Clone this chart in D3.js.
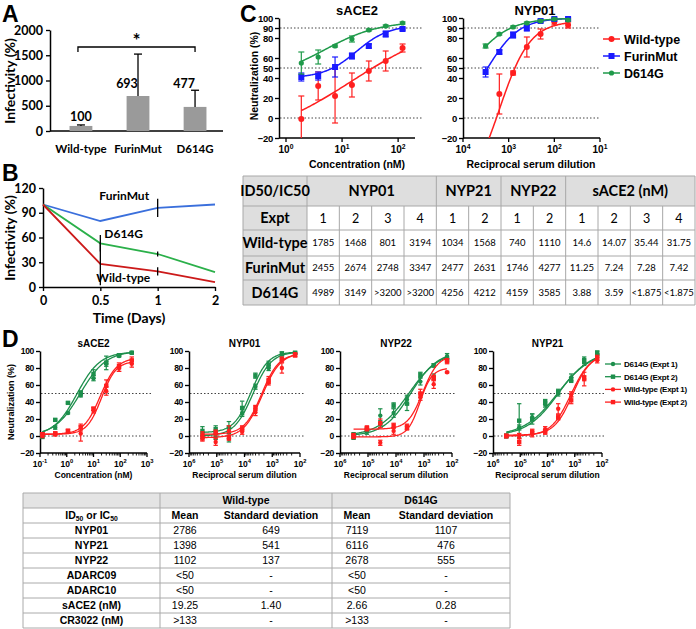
<!DOCTYPE html>
<html><head><meta charset="utf-8">
<script src="https://cdn.jsdelivr.net/npm/d3@7"></script>
<style>body{margin:0;background:#fff} svg{display:block}</style>
</head><body>
<svg id="chart" width="696" height="629"></svg>
<script>
// ---------------- Panel A data ----------------
const aCategories = ["Wild-type", "FurinMut", "D614G"];
const aValues = [100, 693, 477];
const aErrUpper = [20, 830, 330];
const aTicks = [0, 500, 1000, 1500, 2000];

// ---------------- Panel B data ----------------
const bTimes = [0, 0.5, 1, 2];
const bTimeLabels = ["0", "0.5", "1", "2"];
const bTicks = [0, 30, 60, 90, 120];
const bFurin = [100, 80, 96, 100];
const bD614G = [100, 53, 40, 18];
const bWild = [100, 28, 19, 6];
const bFurinErr = [0, 0, 11, 0];
const bD614GErr = [0, 10, 3, 0];
const bWildErr = [0, 26, 5, 0];

// ---------------- Panel C data ----------------
const cTicks = [-20, 0, 20, 40, 50, 60, 80, 90, 100];
const cRefLines = [0, 50, 90];
const cConc = [1.875, 3.75, 7.5, 15, 30, 60, 120];
const cAceWild = [-1, 32, 22, 33, 47, 57, 70];
const cAceWildErr = [23, 14, 27, 12, 10, 10, 4];
const cAceFurin = [41, 42, 51, 62, 72, 84, 89];
const cAceFurinErr = [4, 4, 10, 3, 2, 3, 1];
const cAceD614G = [55, 61, 72, 79, 88, 92, 95];
const cAceD614GErr = [11, 7, 1, 3, 1, 1, 1];
const cAceWildFit = [-25, 99, 15, 0.5];
const cAceFurinFit = [40, 93, 18, 1.5];
const cAceD614GFit = [40, 97, 5, 0.9];
const cDil = [3200, 1600, 800, 400, 200, 100, 50];
const cNypWild = [null, 24, 45, 71, 84, 96, 93];
const cNypWildErr = [0, 20, 2, 10, 5, 3, 3];
const cNypFurin = [46, 66, 83, 90, 97, 99, 99];
const cNypFurinErr = [5, 2, 3, 3, 1, 1, 1];
const cNypD614G = [72, 84, 91, 95, 97, 99, 98];
const cNypD614GErr = [2, 1, 1, 1, 1, 1, 1];
const cNypWildFit = [-80, 97, 1600, 1.3];
const cNypFurinFit = [0, 100, 2900, 1.25];
const cNypD614GFit = [0, 100, 8000, 1.0];
const cLegend = ["Wild-type", "FurinMut", "D614G"];

// ---------------- Table C data ----------------
const ctGroups = ["NYP01", "NYP21", "NYP22", "sACE2 (nM)"];
const ctExpt = [[1, 2, 3, 4], [1, 2], [1, 2], [1, 2, 3, 4]];
const ctRowLabels = ["Wild-type", "FurinMut", "D614G"];
const ctWild = ["1785", "1468", "801", "3194", "1034", "1568", "740", "1110", "14.6", "14.07", "35.44", "31.75"];
const ctFurin = ["2455", "2674", "2748", "3347", "2477", "2631", "1746", "4277", "11.25", "7.24", "7.28", "7.42"];
const ctD614G = ["4989", "3149", ">3200", ">3200", "4256", "4212", "4159", "3585", "3.88", "3.59", "<1.875", "<1.875"];

// ---------------- Panel D data ----------------
const dTicks = [-20, 0, 20, 40, 60, 80, 100];
const dRefLines = [0, 50];
const dConc = [0.123, 0.37, 1.11, 3.33, 10, 30, 90, 270];
const dDil = [328050, 109350, 36450, 12150, 4050, 1350, 450, 150];
// sACE2
const dAceG1 = [1, 10, 27, 48, 68, 85, 94, 98];
const dAceG1Err = [2, 2, 1, 2, 3, 3, 1, 1];
const dAceG2 = [0, 19, 39, 51, 73, 86, 95, 98];
const dAceG2Err = [3, 1, 1, 2, 5, 8, 1, 1];
const dAceR1 = [1, 2, 5, 3, 30, 53, 80, 85];
const dAceR1Err = [3, 2, 2, 9, 3, 5, 4, 4];
const dAceR2 = [2, 3, 6, 10, 32, 59, 81, 89];
const dAceR2Err = [2, 2, 2, 4, 2, 7, 5, 4];
const dAceFits = [[0, 100, 3.2, 0.9], [0, 99, 2.4, 1.0], [2, 88, 20, 1.6], [2, 92, 18, 1.4]];
// NYP01
const dN01G1 = [0, -1, -3, 27, 58, 80, 91, 97];
const dN01G1Err = [3, 3, 4, 4, 3, 3, 2, 1];
const dN01G2 = [6, 8, 10, 33, 71, 84, 97, 98];
const dN01G2Err = [5, 4, 7, 8, 3, 4, 2, 1];
const dN01R1 = [2, -7, 6, 5, 28, 63, 80, 96];
const dN01R1Err = [3, 4, 6, 3, 4, 3, 6, 2];
const dN01R2 = [-3, 4, -2, 9, 33, 66, 90, 95];
const dN01R2Err = [3, 3, 3, 3, 3, 4, 3, 2];
const dN01Fits = [[0, 99, 5000, 1.3], [4, 99, 5800, 1.4], [-2, 98, 2300, 1.3], [2, 97, 2400, 1.4]];
// NYP22
const dN22G1 = [0, 5, 24, 27, 43, 64, 70, 94];
const dN22G1Err = [4, 3, 8, 5, 5, 4, 3, 3];
const dN22G2 = [0, 7, 14, 36, 38, 72, 83, 90];
const dN22G2Err = [3, 3, 4, 3, 8, 3, 2, 3];
const dN22R1 = [0, 9, -8, 6, 11, 46, 61, 75];
const dN22R1Err = [2, 2, 3, 4, 3, 4, 5, 1];
const dN22R2 = [0, 9, 15, 12, 10, 50, 68, 88];
const dN22R2Err = [3, 3, 5, 3, 3, 5, 3, 3];
const dN22Fits = [[0, 100, 3500, 0.8], [0, 100, 3000, 0.9], [-1, 80, 1400, 2.0], [8, 95, 1100, 1.6]];
// NYP21
const dN21G1 = [0, 10, 22, 37, 50, 69, 90, 95];
const dN21G1Err = [2, 3, 4, 3, 3, 4, 3, 2];
const dN21G2 = [0, 18, 20, 40, 52, 66, 87, 98];
const dN21G2Err = [2, 20, 6, 3, 3, 3, 4, 2];
const dN21R1 = [0, 0, 2, 8, 32, 49, 67, 89];
const dN21R1Err = [2, 3, 3, 3, 6, 3, 8, 3];
const dN21R2 = [0, -7, 5, 5, 22, 42, 68, 92];
const dN21R2Err = [2, 4, 3, 3, 3, 4, 3, 3];
const dN21Fits = [[0, 100, 4000, 0.75], [0, 100, 4300, 0.7], [0, 97, 1400, 1.2], [1, 97, 1200, 1.3]];
const dLegend = ["D614G (Expt 1)", "D614G (Expt 2)", "Wild-type (Expt 1)", "Wild-type (Expt 2)"];

// ---------------- Bottom table data ----------------
const tHead1 = ["Wild-type", "D614G"];
const tHead2 = ["Mean", "Standard deviation", "Mean", "Standard deviation"];
const tRows = ["NYP01", "NYP21", "NYP22", "ADARC09", "ADARC10", "sACE2 (nM)", "CR3022 (nM)"];
const tWildMean = ["2786", "1398", "1102", "<50", "<50", "19.25", ">133"];
const tWildSD = ["649", "541", "137", "-", "-", "1.40", "-"];
const tD614GMean = ["7119", "6116", "2678", "<50", "<50", "2.66", ">133"];
const tD614GSD = ["1107", "476", "555", "-", "-", "0.28", "-"];

// =========================================================
const svg = d3.select("#chart");
const AR = "'Liberation Sans', Arial, sans-serif";
const CAL = "Lato, 'Open Sans', sans-serif";
const RED = "#ff1f1f", BLUE = "#1a1aff", GREEN = "#1f9a4a", DGREEN = "#1d8f4c";

function panelLetter(t, x, y) {
  svg.append("text").attr("x", x).attr("y", y).text(t)
    .attr("font-family", AR).attr("font-weight", "bold").attr("font-size", 23);
}
function styleAxis(a, fs, font, sw, ls) {
  a.select(".domain").attr("stroke", "#000").attr("stroke-width", sw);
  a.selectAll(".tick line").attr("stroke", "#000").attr("stroke-width", sw * 0.9);
  a.selectAll(".tick text").attr("font-family", font).attr("font-weight", "bold")
    .attr("font-size", fs).attr("fill", "#000").attr("letter-spacing", ls || 0);
}
function rotTitle(text, x, y, fs, font) {
  svg.append("text").attr("transform", `translate(${x},${y}) rotate(-90)`)
    .attr("text-anchor", "middle").attr("font-family", font).attr("font-weight", "bold")
    .attr("font-size", fs).text(text);
}
function txt(g, s, x, y, fs, font, anchor, weight) {
  return g.append("text").attr("x", x).attr("y", y).attr("font-size", fs)
    .attr("font-family", font).attr("font-weight", weight || "bold")
    .attr("text-anchor", anchor || "middle").text(s);
}

// ---------------- Panel A ----------------
(function () {
  const g = svg.append("g");
  panelLetter("A", 2, 22);
  const x = d3.scaleBand().domain(aCategories).range([53, 223]).paddingInner(0.6).paddingOuter(0.29);
  const y = d3.scaleLinear().domain([0, 2000]).range([131, 30]);
  const ax = g.append("g").attr("transform", "translate(50,0)")
    .call(d3.axisLeft(y).tickValues(aTicks).tickFormat(d3.format("d")).tickSize(4).tickSizeOuter(0).tickPadding(3));
  styleAxis(ax, 12.5, CAL, 1.5);
  g.append("line").attr("x1", 50).attr("x2", 223).attr("y1", 131).attr("y2", 131).attr("stroke", "#000").attr("stroke-width", 1.5);
  aCategories.forEach((c, i) => {
    const cx = x(c) + x.bandwidth() / 2;
    g.append("rect").attr("x", x(c)).attr("y", y(aValues[i])).attr("width", x.bandwidth())
      .attr("height", y(0) - y(aValues[i])).attr("fill", "#9a9a9a");
    g.append("line").attr("x1", cx).attr("x2", cx).attr("y1", y(aValues[i])).attr("y2", y(aValues[i] + aErrUpper[i])).attr("stroke", "#000").attr("stroke-width", 1.3);
    g.append("line").attr("x1", cx - 4).attr("x2", cx + 4).attr("y1", y(aValues[i] + aErrUpper[i])).attr("y2", y(aValues[i] + aErrUpper[i])).attr("stroke", "#000").attr("stroke-width", 1.3);
    const big = aErrUpper[i] > 100;
    txt(g, String(aValues[i]), big ? cx - 11 : cx, big ? 88 : y(aValues[i] + aErrUpper[i]) - 4, 12.5, CAL);
    txt(g, c, cx, 153, 11.5, CAL);
  });
  const x1 = x(aCategories[0]) + x.bandwidth() / 2 - 3, x2 = x(aCategories[2]) + x.bandwidth() / 2;
  g.append("path").attr("d", `M${x1},52 V47 H${x2} V52`).attr("fill", "none").attr("stroke", "#000").attr("stroke-width", 1.3);
  txt(g, "*", (x1 + x2) / 2, 47, 19, CAL);
  rotTitle("Infectivity (%)", 15, 81, 14, CAL);
})();

// ---------------- Panel B ----------------
(function () {
  const g = svg.append("g");
  panelLetter("B", 2, 181);
  const x = d3.scalePoint().domain(bTimes).range([43, 215]);
  const y = d3.scaleLinear().domain([0, 120]).range([287, 188]);
  const ax = g.append("g").attr("transform", "translate(43,0)")
    .call(d3.axisLeft(y).tickValues(bTicks).tickSize(4).tickSizeOuter(0).tickPadding(3));
  styleAxis(ax, 12.5, CAL, 1.5);
  const bx = g.append("g").attr("transform", "translate(0,287)")
    .call(d3.axisBottom(x).tickFormat((d, i) => bTimeLabels[i]).tickSize(4).tickSizeOuter(0).tickPadding(5));
  styleAxis(bx, 12.5, CAL, 1.5);
  const series = [[bFurin, bFurinErr, "#3a6fdc"], [bD614G, bD614GErr, "#2bb04a"], [bWild, bWildErr, "#cc1a1a"]];
  const line = d3.line().x((d, i) => x(bTimes[i])).y(d => y(d));
  series.forEach(([v, e, col]) => {
    g.append("path").datum(v).attr("d", line).attr("fill", "none").attr("stroke", col).attr("stroke-width", 1.8);
  });
  series.forEach(([v, e]) => {
    v.forEach((d, i) => {
      if (e[i] > 0) g.append("line").attr("x1", x(bTimes[i])).attr("x2", x(bTimes[i]))
        .attr("y1", y(d - e[i])).attr("y2", y(d + e[i])).attr("stroke", "#000").attr("stroke-width", 1.3);
    });
  });
  txt(g, "FurinMut", x(0.5) - 1, y(105), 12, CAL, "start");
  txt(g, "D614G", x(0.5) + 4, y(59), 12, CAL, "start");
  txt(g, "Wild-type", x(0.5) - 4, y(6), 12, CAL, "start");
  rotTitle("Infectivity (%)", 15, 238, 14, CAL);
  txt(g, "Time (Days)", 129, 323, 14, CAL);
})();

// ---------------- helpers for dose-response ----------------
let clipN = 0;
function fourPL(p, xv, dil) {
  const [b, t, c, h] = p;
  const r = dil ? Math.pow(xv / c, h) : Math.pow(c / xv, h);
  return b + (t - b) / (1 + r);
}
function logXAxis(g, x, exps, yPos, x0, x1, fs, minor) {
  g.append("line").attr("x1", x0).attr("x2", x1).attr("y1", yPos).attr("y2", yPos).attr("stroke", "#000").attr("stroke-width", 1.5);
  exps.forEach(e => {
    const xv = x(Math.pow(10, e));
    g.append("line").attr("x1", xv).attr("x2", xv).attr("y1", yPos).attr("y2", yPos + 4).attr("stroke", "#000").attr("stroke-width", 1.3);
    const t = g.append("text").attr("x", xv).attr("y", yPos + fs + 5).attr("text-anchor", "middle")
      .attr("font-family", AR).attr("font-weight", "bold").attr("font-size", fs);
    t.append("tspan").text("10");
    t.append("tspan").attr("dy", -fs * 0.45).attr("font-size", fs * 0.68).text(e);
  });
  if (minor) {
    const lo = Math.min(...exps), hi = Math.max(...exps);
    for (let e = lo; e < hi; e++) for (let k = 2; k <= 9; k++) {
      const xv = x(k * Math.pow(10, e));
      g.append("line").attr("x1", xv).attr("x2", xv).attr("y1", yPos).attr("y2", yPos + 2.5).attr("stroke", "#000").attr("stroke-width", 0.9);
    }
  }
}
function doseYAxis(g, y, ticks, xPos, fs) {
  const a = g.append("g").attr("transform", `translate(${xPos},0)`)
    .call(d3.axisLeft(y).tickValues(ticks).tickSize(4).tickSizeOuter(0).tickPadding(2));
  styleAxis(a, fs, AR, 1.5, -0.3);
}
function refLines(g, y, vals, x0, x1) {
  vals.forEach(v => g.append("line").attr("x1", x0).attr("x2", x1).attr("y1", y(v)).attr("y2", y(v))
    .attr("stroke", "#444").attr("stroke-width", 1).attr("stroke-dasharray", "1.5,2"));
}
function marker(g, shape, px, py, size, col) {
  if (shape === "sq") g.append("rect").attr("x", px - size).attr("y", py - size).attr("width", 2 * size).attr("height", 2 * size).attr("fill", col);
  else g.append("circle").attr("cx", px).attr("cy", py).attr("r", size).attr("fill", col);
}
function series(g, x, y, xs, vals, errs, fit, dil, col, shape, size, cap, clip, sw) {
  const [ymin, ymax] = y.domain();
  const lo = Math.log10(d3.min(xs)), hi = Math.log10(d3.max(xs));
  const pts = d3.range(0, 121).map(i => Math.pow(10, lo + (hi - lo) * i / 120));
  g.append("path").datum(pts).attr("clip-path", `url(#${clip})`)
    .attr("d", d3.line().x(d => x(d)).y(d => y(fourPL(fit, d, dil))))
    .attr("fill", "none").attr("stroke", col).attr("stroke-width", sw);
  xs.forEach((xv, i) => {
    const v = vals[i];
    if (v == null) return;
    const px = x(xv), py = y(v), e = errs[i];
    if (e > 0) {
      const top = Math.min(v + e, ymax), bot = Math.max(v - e, ymin);
      g.append("line").attr("x1", px).attr("x2", px).attr("y1", y(top)).attr("y2", y(bot)).attr("stroke", col).attr("stroke-width", 1.2);
      if (v + e <= ymax) g.append("line").attr("x1", px - cap).attr("x2", px + cap).attr("y1", y(top)).attr("y2", y(top)).attr("stroke", col).attr("stroke-width", 1.2);
      if (v - e >= ymin) g.append("line").attr("x1", px - cap).attr("x2", px + cap).attr("y1", y(bot)).attr("y2", y(bot)).attr("stroke", col).attr("stroke-width", 1.2);
    }
    marker(g, shape, px, py, size, col);
  });
}
function makeClip(x0, y0, w, h) {
  const id = "clip" + (clipN++);
  svg.append("clipPath").attr("id", id).append("rect").attr("x", x0).attr("y", y0).attr("width", w).attr("height", h);
  return id;
}

// ---------------- Panel C ----------------
(function () {
  const g = svg.append("g");
  panelLetter("C", 240, 22);
  const y = d3.scaleLinear().domain([-20, 100]).range([138, 18]);
  // sACE2
  const xa = d3.scaleLog().domain([1, 200]).range([286, 415]);
  refLines(g, y, cRefLines, 280, 423);
  doseYAxis(g, y, cTicks, 279, 9.5);
  logXAxis(g, xa, [0, 1, 2], 138, 279, 415, 10, false);
  const ca = makeClip(279, 12, 140, 126);
  series(g, xa, y, cConc, cAceWild, cAceWildErr, cAceWildFit, false, RED, "c", 3, 3, ca, 1.5);
  series(g, xa, y, cConc, cAceFurin, cAceFurinErr, cAceFurinFit, false, BLUE, "sq", 3, 3, ca, 1.5);
  series(g, xa, y, cConc, cAceD614G, cAceD614GErr, cAceD614GFit, false, GREEN, "c", 2.6, 3, ca, 1.5);
  txt(g, "sACE2", 357, 15, 13, AR);
  txt(g, "Concentration (nM)", 357, 168, 10.5, AR);
  rotTitle("Neutralization (%)", 258, 76, 10.5, AR);
  // NYP01
  const xn = d3.scaleLog().domain([1e4, 10]).range([463, 600]);
  refLines(g, y, cRefLines, 464, 600);
  doseYAxis(g, y, cTicks, 463, 9.5);
  logXAxis(g, xn, [4, 3, 2, 1], 138, 463, 600, 10, false);
  const cn = makeClip(463, 12, 140, 126);
  series(g, xn, y, cDil, cNypWild, cNypWildErr, cNypWildFit, true, RED, "c", 3, 3, cn, 1.5);
  series(g, xn, y, cDil, cNypFurin, cNypFurinErr, cNypFurinFit, true, BLUE, "sq", 3, 3, cn, 1.5);
  series(g, xn, y, cDil, cNypD614G, cNypD614GErr, cNypD614GFit, true, GREEN, "c", 2.6, 3, cn, 1.5);
  txt(g, "NYP01", 535, 15, 13, AR);
  txt(g, "Reciprocal serum dilution", 531, 168, 10.5, AR);
  // legend
  const cols = [RED, BLUE, GREEN], shapes = ["c", "sq", "c"];
  cLegend.forEach((s, i) => {
    const ly = 39 + i * 17;
    g.append("line").attr("x1", 603).attr("x2", 620).attr("y1", ly).attr("y2", ly).attr("stroke", cols[i]).attr("stroke-width", 1.5);
    marker(g, shapes[i], 611.5, ly, i === 2 ? 2.6 : 3, cols[i]);
    txt(g, s, 624, ly + 4.5, 12.5, AR, "start");
  });
})();

// ---------------- Table C ----------------
(function () {
  const g = svg.append("g");
  const rowsY = [176, 206, 230, 256, 280, 305];
  const x0 = 243, xF = 307, x1 = 695;
  const cw = (x1 - xF) / 12;
  const cx = i => xF + i * cw;
  g.append("rect").attr("x", x0).attr("y", rowsY[0]).attr("width", x1 - x0).attr("height", rowsY[5] - rowsY[0]).attr("fill", "#fff");
  g.append("rect").attr("x", x0).attr("y", rowsY[0]).attr("width", x1 - x0).attr("height", rowsY[1] - rowsY[0]).attr("fill", "#dedede");
  g.append("rect").attr("x", x0).attr("y", rowsY[1]).attr("width", xF - x0).attr("height", rowsY[5] - rowsY[1]).attr("fill", "#dedede");
  const ln = (a, b, c, d) => g.append("line").attr("x1", a).attr("y1", b).attr("x2", c).attr("y2", d).attr("stroke", "#a8a8a8").attr("stroke-width", 1);
  rowsY.forEach(ry => ln(x0, ry, x1, ry));
  ln(x0, rowsY[0], x0, rowsY[5]); ln(xF, rowsY[0], xF, rowsY[5]); ln(x1, rowsY[0], x1, rowsY[5]);
  let start = 0;
  const cy = (r, fs) => (rowsY[r] + rowsY[r + 1]) / 2 + fs * 0.36;
  txt(g, "ID50/IC50", (x0 + xF) / 2, cy(0, 14.5), 14.5, CAL);
  txt(g, "Expt", (x0 + xF) / 2, cy(1, 14.5), 14.5, CAL);
  ctGroups.forEach((grp, gi) => {
    const n = ctExpt[gi].length;
    txt(g, grp, (cx(start) + cx(start + n)) / 2, cy(0, 14.5), 14.5, CAL);
    ctExpt[gi].forEach((e, k) => {
      const c = start + k;
      if (c > 0) ln(cx(c), k === 0 ? rowsY[0] : rowsY[1], cx(c), rowsY[5]);
      txt(g, String(e), (cx(c) + cx(c + 1)) / 2, cy(1, 12.5), 12.5, CAL, "middle", "normal");
    });
    start += n;
  });
  [ctWild, ctFurin, ctD614G].forEach((row, r) => {
    txt(g, ctRowLabels[r], (x0 + xF) / 2, cy(r + 2, 14.5), 14.5, CAL);
    row.forEach((v, c) => txt(g, v, (cx(c) + cx(c + 1)) / 2, cy(r + 2, 9.5), 9.5, CAL, "middle", "normal"));
  });
})();

// ---------------- Panel D ----------------
(function () {
  const g = svg.append("g");
  panelLetter("D", 2, 347);
  const y = d3.scaleLinear().domain([-20, 100]).range([453, 351]);
  const cols = [DGREEN, DGREEN, RED, RED], shapes = ["c", "sq", "c", "sq"];
  const panels = [
    { title: "sACE2", x: d3.scaleLog().domain([0.1, 1000]).range([40, 147]), exps: [-1, 0, 1, 2, 3], xs: dConc, dil: false,
      data: [[dAceG1, dAceG1Err], [dAceG2, dAceG2Err], [dAceR1, dAceR1Err], [dAceR2, dAceR2Err]], fits: dAceFits, xt: "Concentration (nM)" },
    { title: "NYP01", x: d3.scaleLog().domain([1e6, 100]).range([189, 300]), exps: [6, 5, 4, 3, 2], xs: dDil, dil: true,
      data: [[dN01G1, dN01G1Err], [dN01G2, dN01G2Err], [dN01R1, dN01R1Err], [dN01R2, dN01R2Err]], fits: dN01Fits, xt: "Reciprocal serum dilution" },
    { title: "NYP22", x: d3.scaleLog().domain([1e6, 100]).range([340, 452]), exps: [6, 5, 4, 3, 2], xs: dDil, dil: true,
      data: [[dN22G1, dN22G1Err], [dN22G2, dN22G2Err], [dN22R1, dN22R1Err], [dN22R2, dN22R2Err]], fits: dN22Fits, xt: "Reciprocal serum dilution" },
    { title: "NYP21", x: d3.scaleLog().domain([1e6, 100]).range([493, 602]), exps: [6, 5, 4, 3, 2], xs: dDil, dil: true,
      data: [[dN21G1, dN21G1Err], [dN21G2, dN21G2Err], [dN21R1, dN21R1Err], [dN21R2, dN21R2Err]], fits: dN21Fits, xt: "Reciprocal serum dilution" }
  ];
  panels.forEach(p => {
    const [r0, r1] = p.x.range();
    refLines(g, y, dRefLines, r0 + 1, r1 + 4);
    doseYAxis(g, y, dTicks, r0, 8.5);
    logXAxis(g, p.x, p.exps, 453, r0, r1, 8.5, true);
    const cl = makeClip(r0, 346, r1 - r0 + 4, 107);
    p.data.forEach((d, i) => series(g, p.x, y, p.xs, d[0], d[1], p.fits[i], p.dil, cols[i], shapes[i], 2.2, 2.2, cl, 1.3));
    txt(g, p.title, (r0 + r1) / 2, 347, 10, AR);
    txt(g, p.xt, (r0 + r1) / 2, 478, 8.5, AR);
  });
  rotTitle("Neutralization (%)", 14, 402, 9, AR);
  dLegend.forEach((s, i) => {
    const ly = 364 + i * 12.7;
    g.append("line").attr("x1", 605).attr("x2", 621).attr("y1", ly).attr("y2", ly).attr("stroke", cols[i]).attr("stroke-width", 1.3);
    marker(g, shapes[i], 613, ly, 2.2, cols[i]);
    txt(g, s, 624, ly + 3, 8, AR, "start").attr("letter-spacing", -0.25);
  });
})();

// ---------------- Bottom table ----------------
(function () {
  const g = svg.append("g");
  const xs = [23, 160, 210, 332, 382, 510];
  const y0 = 493, rh = 15;
  const nRows = 2 + tRows.length;
  g.append("rect").attr("x", xs[0]).attr("y", y0).attr("width", xs[5] - xs[0]).attr("height", rh).attr("fill", "#e4e4e4");
  const ln = (a, b, c, d) => g.append("line").attr("x1", a).attr("y1", b).attr("x2", c).attr("y2", d).attr("stroke", "#aaa").attr("stroke-width", 1);
  for (let r = 0; r <= nRows; r++) ln(xs[0], y0 + r * rh, xs[5], y0 + r * rh);
  [0, 1, 3, 5].forEach(i => ln(xs[i], y0, xs[i], y0 + nRows * rh));
  const fs = 10.5;
  const cyr = r => y0 + r * rh + rh / 2 + fs * 0.36;
  const mid = i => (xs[i] + xs[i + 1]) / 2;
  txt(g, tHead1[0], (xs[1] + xs[3]) / 2, cyr(0), fs, AR);
  txt(g, tHead1[1], (xs[3] + xs[5]) / 2, cyr(0), fs, AR);
  const h = g.append("text").attr("x", mid(0)).attr("y", cyr(1)).attr("text-anchor", "middle")
    .attr("font-family", AR).attr("font-weight", "bold").attr("font-size", fs);
  h.append("tspan").text("ID");
  h.append("tspan").attr("font-size", fs * 0.65).attr("dy", 2).text("50");
  h.append("tspan").attr("dy", -2).text(" or IC");
  h.append("tspan").attr("font-size", fs * 0.65).attr("dy", 2).text("50");
  tHead2.forEach((s, i) => txt(g, s, mid(i + 1), cyr(1), fs, AR));
  const cols = [tWildMean, tWildSD, tD614GMean, tD614GSD];
  tRows.forEach((r, ri) => {
    txt(g, r, mid(0), cyr(ri + 2), fs, AR);
    cols.forEach((c, ci) => txt(g, c[ri], mid(ci + 1), cyr(ri + 2), fs, AR, "middle", "normal"));
  });
})();
</script>
</body></html>
